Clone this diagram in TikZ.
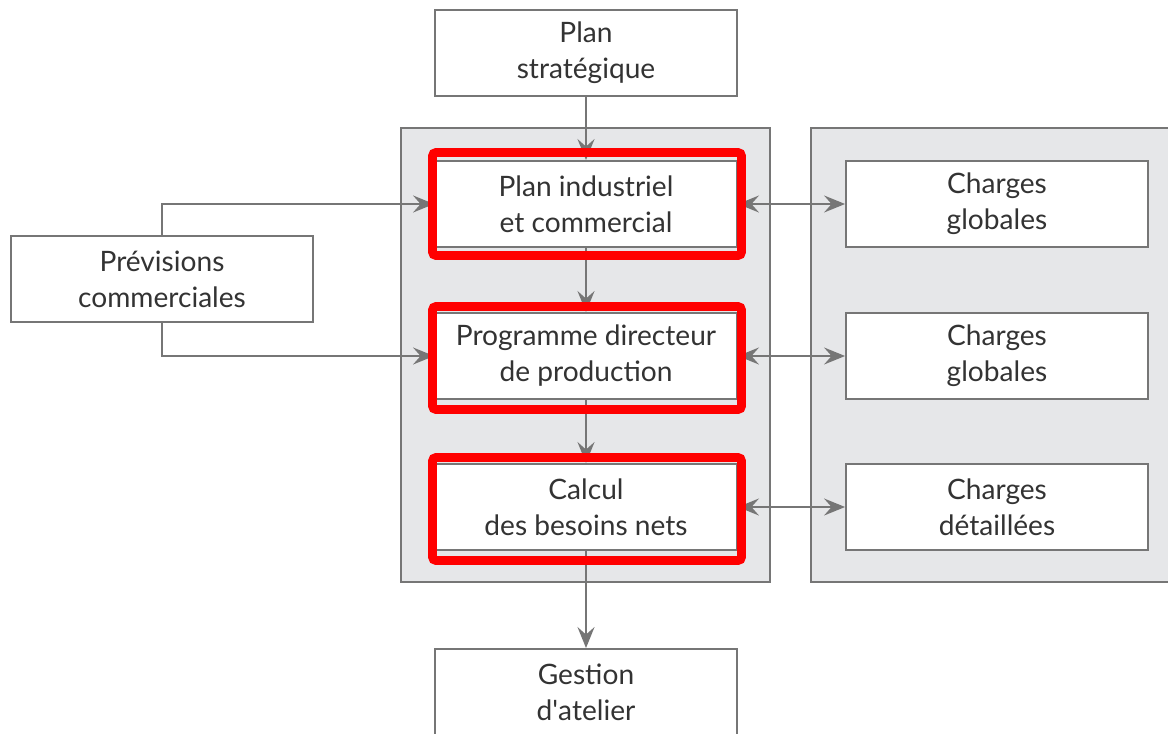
\documentclass[tikz,border=0pt]{standalone}
\usepackage{fontspec}
\setmainfont{Lato}
\usepackage{xcolor}
\usetikzlibrary{calc}
\usetikzlibrary{arrows.meta}

\definecolor{linegray}{HTML}{767676}
\definecolor{panelgray}{HTML}{E6E7E9}

\begin{document}
\begin{tikzpicture}
    [x=0.02cm, y=-0.02cm,
     bloc/.style={rectangle, draw=linegray, line width=1.1pt, fill=white, minimum width=6.04cm, minimum height=1.72cm, align=center, font=\fontsize{16}{20.5}\selectfont, text=black!80},
     panneau/.style={draw=linegray, line width=1.1pt, fill=panelgray},
     cadre/.style={draw=red, line width=5pt, rounded corners=2pt},
     fleche/.style={draw=linegray, line width=1.1pt, -{Stealth[length=4.2mm,width=3.4mm,inset=1.5mm]}},
     double/.style={draw=linegray, line width=1.1pt, {Stealth[length=4.2mm,width=3.4mm,inset=1.5mm]}-{Stealth[length=4.2mm,width=3.4mm,inset=1.5mm]}}]
    \useasboundingbox (0,0) rectangle (1168,733);
    \clip (0,0) rectangle (1168,733);
    % panneaux de fond
    \draw[panneau] (401,128) rectangle (770,582);
    \draw[panneau] (811,128) rectangle (1180,582);
    % colonne centrale
    \node(strat)[bloc] at (586,53) {Plan\\strat\'egique};
    \foreach \n/\y/\t in {pic/204/{Plan industriel\\et commercial},pdp/356/{Programme directeur\\de production},cbn/507/{Calcul\\des besoins nets}}{
        \node(\n)[bloc] at (586,\y) {\t};
    }
    \node(atelier)[bloc] at (586,692) {Gestion\\d\textquotesingle atelier};
    % charges
    \foreach \n/\y/\t in {cg1/204/{Charges\\globales},cg2/356/{Charges\\globales},cd/507/{Charges\\d\'etaill\'ees}}{
        \node(\n)[bloc] at (997,\y) {\t};
    }
    \node(prev)[bloc] at (162,279) {Pr\'evisions\\commerciales};
    % liaisons
    \draw[fleche] (strat) -- (pic);
    \draw[fleche] (pic) -- (pdp);
    \draw[fleche] (pdp) -- (cbn);
    \draw[fleche] (cbn) -- (atelier);
    \draw[fleche] (prev.north) |- (pic.west);
    \draw[fleche] (prev.south) |- (pdp.west);
    \draw[double] (pic.east) -- (cg1.west);
    \draw[double] (pdp.east) -- (cg2.west);
    \draw[double] (cbn.east) -- (cd.west);
    % cadres rouges
    \foreach \y in {204,358,509}{
        \draw[cadre] (432.5,\y-51.5) rectangle (741.5,\y+51.5);
    }
\end{tikzpicture}
\end{document}
